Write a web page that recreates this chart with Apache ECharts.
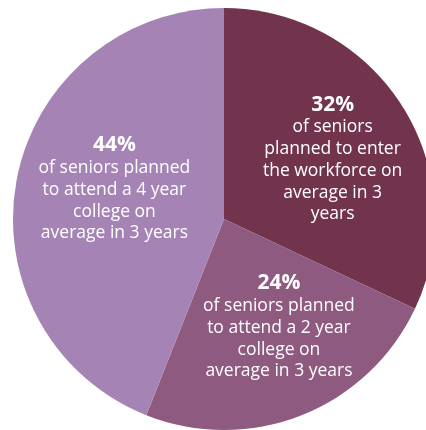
<!DOCTYPE html>
<html><head><meta charset="utf-8">
<script src="https://cdn.jsdelivr.net/npm/echarts@6/dist/echarts.min.js"></script>
<style>html,body{margin:0;padding:0;background:#fff;}#c{width:426px;height:430px;}</style>
</head><body><div id="c"></div>
<script>
var percents = [32, 24, 44];
var labelLines = [
  ['of seniors', 'planned to enter', 'the workforce on', 'average in 3', 'years'],
  ['of seniors planned', 'to attend a 2 year', 'college on', 'average in 3 years'],
  ['of seniors planned', 'to attend a 4 year', 'college on', 'average in 3 years']
];
var colors = ['#72334d', '#8f5a80', '#a584b5'];
var offsets = [[17, -2], [15, 7], [-3, -10]];

var data = percents.map(function (v, i) {
  return {
    value: v,
    name: percents[i] + '%',
    itemStyle: { color: colors[i] },
    label: { offset: offsets[i] }
  };
});

var chart = echarts.init(document.getElementById('c'));
chart.setOption({
  animation: false,
  backgroundColor: '#ffffff',
  series: [{
    type: 'pie',
    center: [224, 219],
    radius: [0, 211],
    startAngle: 90,
    clockwise: true,
    avoidLabelOverlap: false,
    itemStyle: { borderWidth: 0 },
    labelLine: { show: false },
    label: {
      show: true,
      position: 'inner',
      color: '#ffffff',
      fontFamily: 'Open Sans',
      formatter: function (p) {
        return '{p|' + p.name + '}\n' + labelLines[p.dataIndex].map(function (s) { return '{t|' + s + '}'; }).join('\n');
      },
      rich: {
        p: { fontSize: 21, fontWeight: 'bold', color: '#fff', fontFamily: 'Open Sans', lineHeight: 24, align: 'center' },
        t: { fontSize: 17.5, color: '#fff', fontFamily: 'Open Sans', lineHeight: 21.7, align: 'center' }
      }
    },
    data: data
  }]
});
</script></body></html>
